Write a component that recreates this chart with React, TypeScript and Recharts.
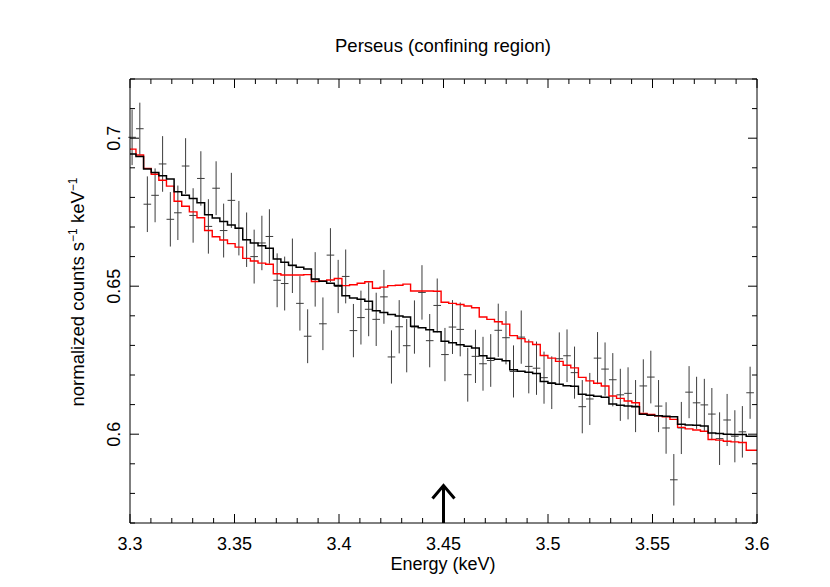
import { ComposedChart, Line, Scatter, ErrorBar, XAxis, YAxis, ReferenceLine } from "recharts";

// channel centres (keV), 3.65 eV bins
const energies = [
  3.3010, 3.3047, 3.3083, 3.3120, 3.3156, 3.3193, 3.3229, 3.3266, 3.3302, 3.3339,
  3.3375, 3.3412, 3.3448, 3.3485, 3.3521, 3.3558, 3.3594, 3.3631, 3.3667, 3.3704,
  3.3740, 3.3777, 3.3813, 3.3850, 3.3886, 3.3923, 3.3959, 3.3996, 3.4032, 3.4069,
  3.4105, 3.4142, 3.4178, 3.4215, 3.4251, 3.4288, 3.4324, 3.4361, 3.4397, 3.4434,
  3.4470, 3.4507, 3.4543, 3.4580, 3.4616, 3.4653, 3.4689, 3.4726, 3.4762, 3.4799,
  3.4835, 3.4872, 3.4908, 3.4945, 3.4981, 3.5018, 3.5054, 3.5091, 3.5127, 3.5164,
  3.5200, 3.5237, 3.5273, 3.5310, 3.5346, 3.5383, 3.5419, 3.5456, 3.5492, 3.5529,
  3.5565, 3.5602, 3.5638, 3.5675, 3.5711, 3.5748, 3.5784, 3.5821, 3.5857, 3.5894,
  3.5930, 3.5967,
];

// observed normalized counts
const counts = [
  0.7003, 0.7032, 0.6777, 0.6807, 0.6913, 0.6726, 0.6748, 0.6906, 0.6739, 0.6864,
  0.6702, 0.6831, 0.6688, 0.6790, 0.6696, 0.6657, 0.6600, 0.6646, 0.6668, 0.6520,
  0.6509, 0.6569, 0.6442, 0.6331, 0.6523, 0.6373, 0.6605, 0.6499, 0.6533, 0.6350,
  0.6394, 0.6422, 0.6388, 0.6464, 0.6261, 0.6363, 0.6299, 0.6362, 0.6479, 0.6316,
  0.6435, 0.6269, 0.6362, 0.6354, 0.6201, 0.6263, 0.6238, 0.6249, 0.6351, 0.6326,
  0.6212, 0.6328, 0.6229, 0.6223, 0.6191, 0.6174, 0.6255, 0.6265, 0.6208, 0.6093,
  0.6119, 0.6257, 0.6220, 0.6184, 0.6133, 0.6138, 0.6095, 0.6163, 0.6193, 0.6095,
  0.6021, 0.5846, 0.6021, 0.6142, 0.6106, 0.6099, 0.6068, 0.5985, 0.6048, 0.5993,
  0.6008, 0.6140,
];

// 1-sigma errors on counts
const errors = [
  0.0094, 0.0088, 0.0094, 0.0091, 0.0094, 0.0092, 0.0092, 0.0094, 0.0092, 0.0092,
  0.0092, 0.0091, 0.0091, 0.0093, 0.0092, 0.0092, 0.0091, 0.0092, 0.0092, 0.0091,
  0.0091, 0.0092, 0.0092, 0.0091, 0.0092, 0.0089, 0.0091, 0.0090, 0.0091, 0.0090,
  0.0091, 0.0091, 0.0090, 0.0091, 0.0090, 0.0090, 0.0090, 0.0090, 0.0092, 0.0090,
  0.0091, 0.0090, 0.0091, 0.0091, 0.0091, 0.0090, 0.0091, 0.0089, 0.0090, 0.0090,
  0.0088, 0.0090, 0.0091, 0.0090, 0.0088, 0.0089, 0.0089, 0.0089, 0.0088, 0.0090,
  0.0088, 0.0088, 0.0090, 0.0090, 0.0088, 0.0088, 0.0088, 0.0090, 0.0089, 0.0088,
  0.0087, 0.0087, 0.0088, 0.0088, 0.0088, 0.0088, 0.0088, 0.0089, 0.0088, 0.0088,
  0.0087, 0.0088,
];

// model without line (black)
const blackModel = [
  0.6947, 0.6938, 0.6896, 0.6884, 0.6873, 0.6862, 0.6819, 0.6807, 0.6796, 0.6782,
  0.6741, 0.6730, 0.6719, 0.6707, 0.6696, 0.6657, 0.6646, 0.6637, 0.6628, 0.6592,
  0.6581, 0.6571, 0.6564, 0.6558, 0.6524, 0.6517, 0.6510, 0.6502, 0.6468, 0.6460,
  0.6456, 0.6449, 0.6417, 0.6411, 0.6404, 0.6399, 0.6396, 0.6365, 0.6360, 0.6353,
  0.6346, 0.6314, 0.6309, 0.6302, 0.6297, 0.6291, 0.6265, 0.6257, 0.6253, 0.6248,
  0.6218, 0.6213, 0.6209, 0.6205, 0.6178, 0.6172, 0.6169, 0.6164, 0.6162, 0.6135,
  0.6132, 0.6128, 0.6125, 0.6102, 0.6098, 0.6095, 0.6093, 0.6067, 0.6064, 0.6062,
  0.6061, 0.6059, 0.6034, 0.6031, 0.6030, 0.6028, 0.6004, 0.6002, 0.6000, 0.5999,
  0.5999, 0.5993,
];

// model with line (red)
const redModel = [
  0.6963, 0.6943, 0.6898, 0.6878, 0.6858, 0.6838, 0.6787, 0.6770, 0.6751, 0.6731,
  0.6688, 0.6667, 0.6656, 0.6644, 0.6632, 0.6594, 0.6585, 0.6578, 0.6574, 0.6542,
  0.6538, 0.6538, 0.6538, 0.6539, 0.6516, 0.6518, 0.6521, 0.6526, 0.6502, 0.6505,
  0.6510, 0.6515, 0.6493, 0.6497, 0.6502, 0.6503, 0.6507, 0.6484, 0.6484, 0.6484,
  0.6483, 0.6446, 0.6442, 0.6438, 0.6433, 0.6427, 0.6396, 0.6388, 0.6380, 0.6372,
  0.6333, 0.6323, 0.6312, 0.6303, 0.6266, 0.6257, 0.6246, 0.6233, 0.6224, 0.6192,
  0.6180, 0.6172, 0.6163, 0.6129, 0.6121, 0.6112, 0.6106, 0.6070, 0.6067, 0.6062,
  0.6059, 0.6050, 0.6023, 0.6018, 0.6014, 0.6010, 0.5982, 0.5980, 0.5976, 0.5974,
  0.5972, 0.5946,
];

const xTicks = [
  3.3, 3.31, 3.32, 3.33, 3.34, 3.35, 3.36, 3.37, 3.38, 3.39, 3.4, 3.41, 3.42, 3.43, 3.44, 3.45,
  3.46, 3.47, 3.48, 3.49, 3.5, 3.51, 3.52, 3.53, 3.54, 3.55, 3.56, 3.57, 3.58, 3.59, 3.6,
];
const yTicks = [0.57, 0.58, 0.59, 0.6, 0.61, 0.62, 0.63, 0.64, 0.65, 0.66, 0.67, 0.68, 0.69, 0.7, 0.71, 0.72];

const X_MIN = 3.3;
const X_MAX = 3.6;
const Y_MIN = 0.57;
const Y_MAX = 0.72;
const HALF_BIN = 0.001825;
const LINE_ENERGY = 3.45;

const FONT = "'Liberation Sans', Arial, Helvetica, sans-serif";

const points = energies.map((e, i) => ({ e, v: counts[i], err: errors[i], xerr: HALF_BIN }));
const modelRows = [
  { e: X_MIN, black: blackModel[0], red: redModel[0] },
  ...energies.map((e, i) => ({ e, black: blackModel[i], red: redModel[i] })),
  { e: X_MAX, black: blackModel[blackModel.length - 1], red: redModel[redModel.length - 1] },
];

const isMajor = (v: number) => Math.abs(v * 20 - Math.round(v * 20)) < 1e-6;
const fmt = (v: number) => String(Number(v.toFixed(2)));

const BottomTick = (p: any) => {
  const v = p.payload.value;
  const major = isMajor(v);
  return (
    <g>
      <line x1={p.x} x2={p.x} y1={p.y} y2={p.y - (major ? 9 : 5)} stroke="#000" strokeWidth={1} />
      {major && (
        <text x={p.x} y={p.y + 27} textAnchor="middle" fontSize={18} fontFamily={FONT} fill="#000">
          {fmt(v)}
        </text>
      )}
    </g>
  );
};

const TopTick = (p: any) => {
  const major = isMajor(p.payload.value);
  return <line x1={p.x} x2={p.x} y1={p.y} y2={p.y + (major ? 9 : 5)} stroke="#000" strokeWidth={1} />;
};

const LeftTick = (p: any) => {
  const v = p.payload.value;
  const major = isMajor(v);
  return (
    <g>
      <line x1={p.x} x2={p.x + (major ? 9 : 5)} y1={p.y} y2={p.y} stroke="#000" strokeWidth={1} />
      {major && (
        <text
          x={p.x - 10}
          y={p.y}
          transform={`rotate(-90, ${p.x - 10}, ${p.y})`}
          textAnchor="middle"
          fontSize={18}
          fontFamily={FONT}
          fill="#000"
        >
          {fmt(v)}
        </text>
      )}
    </g>
  );
};

const RightTick = (p: any) => {
  const major = isMajor(p.payload.value);
  return <line x1={p.x} x2={p.x - (major ? 9 : 5)} y1={p.y} y2={p.y} stroke="#000" strokeWidth={1} />;
};

const Arrow = (p: any) => {
  const top = Math.min(p.y1, p.y2);
  const bottom = Math.max(p.y1, p.y2);
  return (
    <g>
      <line x1={p.x1} x2={p.x1} y1={bottom} y2={top + 1} stroke="#000" strokeWidth={3} />
      <polyline
        points={`${p.x1 - 11},${top + 14} ${p.x1},${top + 1} ${p.x1 + 11},${top + 14}`}
        fill="none"
        stroke="#000"
        strokeWidth={3}
      />
    </g>
  );
};

export default function App() {
  return (
    <div style={{ position: "absolute", left: 0, top: 0, width: 830, height: 587, background: "#fff" }}>
      <ComposedChart
        width={830}
        height={587}
        data={modelRows}
        margin={{ top: 69, right: 63, bottom: 34, left: 100 }}
      >
        <XAxis
          xAxisId={0}
          dataKey="e"
          type="number"
          domain={[X_MIN, X_MAX]}
          allowDataOverflow
          ticks={xTicks}
          interval={0}
          height={30}
          tickSize={0}
          tickMargin={0}
          tick={<BottomTick />}
          axisLine={{ stroke: "#000", strokeWidth: 1 }}
        />
        <XAxis
          xAxisId="top"
          orientation="top"
          dataKey="e"
          type="number"
          domain={[X_MIN, X_MAX]}
          allowDataOverflow
          ticks={xTicks}
          interval={0}
          height={10}
          tickSize={0}
          tickMargin={0}
          tick={<TopTick />}
          axisLine={{ stroke: "#000", strokeWidth: 1 }}
        />
        <YAxis
          yAxisId={0}
          type="number"
          domain={[Y_MIN, Y_MAX]}
          allowDataOverflow
          ticks={yTicks}
          interval={0}
          width={30}
          tickSize={0}
          tickMargin={0}
          tick={<LeftTick />}
          axisLine={{ stroke: "#000", strokeWidth: 1 }}
        />
        <YAxis
          yAxisId="right"
          orientation="right"
          type="number"
          domain={[Y_MIN, Y_MAX]}
          allowDataOverflow
          ticks={yTicks}
          interval={0}
          width={10}
          tickSize={0}
          tickMargin={0}
          tick={<RightTick />}
          axisLine={{ stroke: "#000", strokeWidth: 1 }}
        />
        <Scatter data={points} dataKey="v" shape={() => <g />} isAnimationActive={false}>
          <ErrorBar dataKey="err" direction="y" width={0} stroke="#3c3c3c" strokeWidth={1} />
          <ErrorBar dataKey="xerr" direction="x" width={0} stroke="#3c3c3c" strokeWidth={1} />
        </Scatter>
        <Line
          dataKey="red"
          type="step"
          stroke="#ff0000"
          strokeWidth={1.4}
          dot={false}
          activeDot={false}
          isAnimationActive={false}
        />
        <Line
          dataKey="black"
          type="step"
          stroke="#000"
          strokeWidth={1.5}
          dot={false}
          activeDot={false}
          isAnimationActive={false}
        />
        <ReferenceLine
          segment={[
            { x: LINE_ENERGY, y: Y_MIN },
            { x: LINE_ENERGY, y: 0.583 },
          ]}
          shape={<Arrow />}
        />
      </ComposedChart>
      <svg
        width={830}
        height={587}
        style={{ position: "absolute", left: 0, top: 0, pointerEvents: "none" }}
        fontFamily={FONT}
      >
        <text x={443} y={52} textAnchor="middle" fontSize={18.5} fill="#000">
          Perseus (confining region)
        </text>
        <text x={443} y={570} textAnchor="middle" fontSize={18} fill="#000">
          Energy (keV)
        </text>
        <text transform="rotate(-90, 84, 292)" x={84} y={292} textAnchor="middle" fontSize={18.5} fill="#000">
          normalized counts s
          <tspan dy={-7} fontSize={12}>−1</tspan>
          <tspan dy={7}> keV</tspan>
          <tspan dy={-7} fontSize={12}>−1</tspan>
        </text>
      </svg>
    </div>
  );
}
